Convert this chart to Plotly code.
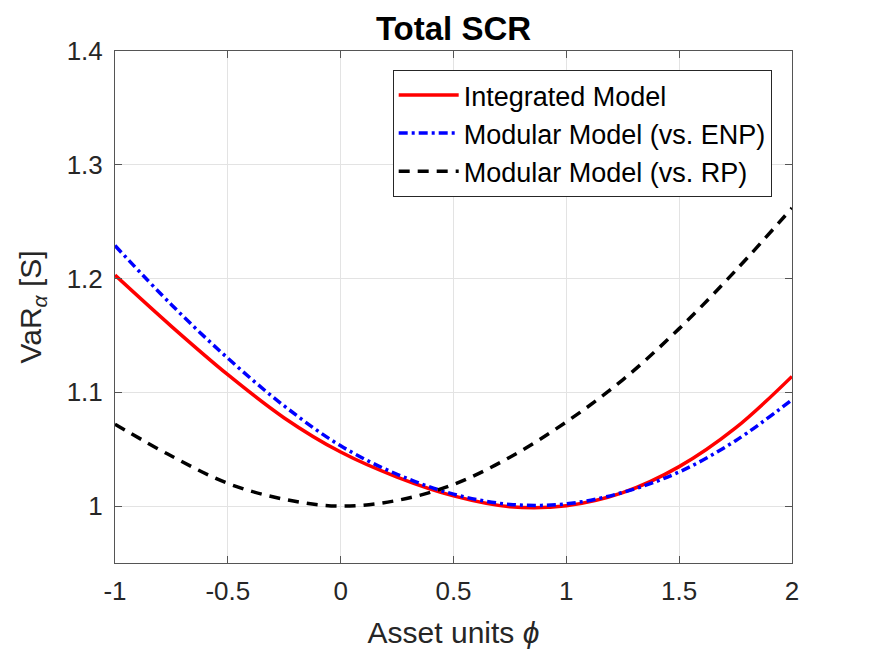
import plotly.graph_objects as go

phi = [-1.0, -0.75, -0.5, -0.25, 0.0, 0.25, 0.5, 0.75, 1.0, 1.25, 1.5, 1.75, 2.0]
integrated = [1.203, 1.158, 1.1155, 1.0775, 1.0475, 1.0255, 1.009, 0.9995, 1.0003, 1.0118, 1.0347, 1.0687, 1.114]
modular_enp = [1.229, 1.177, 1.130, 1.088, 1.053, 1.028, 1.0105, 1.0015, 1.002, 1.012, 1.030, 1.0575, 1.0935]
modular_rp = [1.072, 1.044, 1.020, 1.006, 1.0, 1.005, 1.019, 1.043, 1.074, 1.111, 1.156, 1.207, 1.262]

x_ticks = [-1, -0.5, 0, 0.5, 1, 1.5, 2]
x_ticktext = ["-1", "-0.5", "0", "0.5", "1", "1.5", "2"]
y_ticks = [1.0, 1.1, 1.2, 1.3, 1.4]
y_ticktext = ["1", "1.1", "1.2", "1.3", "1.4"]

FONT = "Liberation Sans, Arial, sans-serif"
TXT = "#262626"

fig = go.Figure()
fig.add_trace(go.Scatter(x=phi, y=integrated, mode="lines", name="Integrated Model",
                         line=dict(color="#ff0000", width=3.5, shape="spline")))
fig.add_trace(go.Scatter(x=phi, y=modular_enp, mode="lines", name="Modular Model (vs. ENP)",
                         line=dict(color="#0000ff", width=3.5, dash="9px,4px,3px,4px", shape="spline")))
fig.add_trace(go.Scatter(x=phi, y=modular_rp, mode="lines", name="Modular Model (vs. RP)",
                         line=dict(color="#000000", width=3.5, dash="11px,8px", shape="spline")))

axis_common = dict(
    showgrid=True, gridcolor="#e3e3e3", gridwidth=1,
    showline=True, linecolor="#555555", linewidth=1, mirror="ticks",
    ticks="inside", ticklen=7, tickcolor="#555555",
    tickfont=dict(family=FONT, size=26, color=TXT),
    zeroline=False,
)

fig.update_layout(
    width=875, height=657,
    margin=dict(l=115, r=83, t=51, b=94),
    paper_bgcolor="white", plot_bgcolor="white",
    font=dict(family=FONT, color=TXT),
    title=dict(text="<b>Total SCR</b>", x=0.5 * (115 + 792) / 875, xanchor="center",
               y=1 - 28 / 657, yanchor="middle",
               font=dict(family=FONT, size=33, color="#000000")),
    xaxis=dict(range=[-1, 2], tickvals=x_ticks, ticktext=x_ticktext, ticklabelstandoff=5,
               title=dict(text="Asset units <i>ϕ</i>", font=dict(family=FONT, size=30, color=TXT), standoff=16),
               **axis_common),
    yaxis=dict(range=[0.95, 1.4], tickvals=y_ticks, ticktext=y_ticktext, ticklabelstandoff=6,
               title=dict(text="VaR<sub><i>α</i></sub> [S]", font=dict(family=FONT, size=30, color=TXT), standoff=16),
               **axis_common),
    legend=dict(x=0.970, y=0.963, xanchor="right", yanchor="top",
                bgcolor="white", bordercolor="#262626", borderwidth=1,
                font=dict(family=FONT, size=27, color="#000000"),
                itemwidth=60, tracegroupgap=0),
    showlegend=True,
)

fig.write_html("out.html")
